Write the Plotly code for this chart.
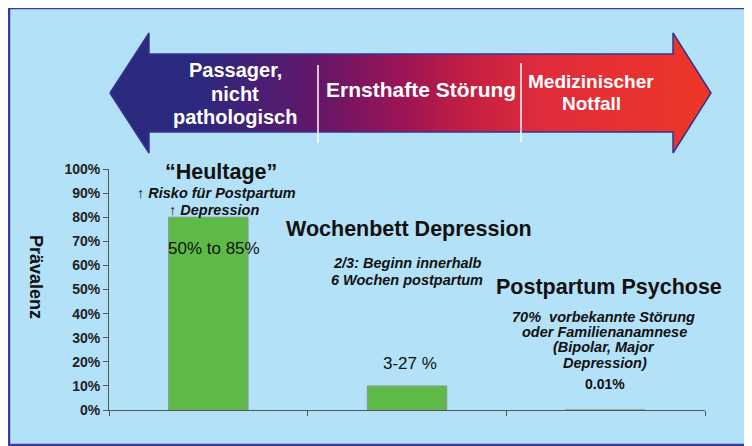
import plotly.graph_objects as go

# ---------------- data ----------------
categories = ["Heultage", "Wochenbett Depression", "Postpartum Psychose"]
prevalence = [0.80, 0.10, 0.0001]
y_ticks = [0, 0.1, 0.2, 0.3, 0.4, 0.5, 0.6, 0.7, 0.8, 0.9, 1.0]
y_title = "Prävalenz"
arrow_left_lines = ["Passager,", "nicht", "pathologisch"]
arrow_mid_label = "Ernsthafte Störung"
arrow_right_lines = ["Medizinischer", "Notfall"]

# page is 752x446 with an 8px body margin -> figure 744x438
OFF = 8
W, H = 744, 438
FONT = "Arial, Liberation Sans, sans-serif"


def fx(px):  # page pixel -> paper fraction
    return (px - OFF) / W


def fy(py):
    return 1 - (py - OFF) / H


fig = go.Figure()

# bars
fig.add_trace(go.Bar(
    x=categories, y=prevalence, width=0.4,
    marker=dict(color="#5dba47", line=dict(color="#8c9a8c", width=1)),
    xaxis="x", yaxis="y", hoverinfo="skip", showlegend=False,
))

# gradient arrow (decoration) on a full-figure pixel overlay axis
ax = [110, 149, 149, 673, 673, 711, 673, 673, 149, 149, 110]
ay = [93, 33, 54, 54, 33, 93, 153, 132, 132, 153, 93]
fig.add_trace(go.Scatter(
    x=ax, y=ay, mode="lines", fill="toself",
    line=dict(color="#34348e", width=1.5),
    fillgradient=dict(type="horizontal", colorscale=[
        [0.0, "#2a2a7e"], [0.15, "#2c2880"], [0.35, "#661668"],
        [0.48, "#9a1456"], [0.6, "#c41f42"], [0.72, "#e02c3c"], [1.0, "#ee3626"]]),
    xaxis="x2", yaxis="y2", hoverinfo="skip", showlegend=False,
))

fig.update_layout(
    width=W, height=H, autosize=False,
    margin=dict(l=0, r=0, t=0, b=0, pad=0),
    paper_bgcolor="white", plot_bgcolor="rgba(0,0,0,0)",
    font=dict(family=FONT, color="#111"),
    xaxis=dict(domain=[fx(109), fx(705)], type="category", range=[-0.5, 2.5],
               showline=True, linecolor="#555", linewidth=1,
               ticks="outside", tickson="boundaries", ticklen=5, tickcolor="#555",
               showticklabels=False, showgrid=False, zeroline=False, fixedrange=True,
               automargin=False),
    yaxis=dict(domain=[fy(410), fy(169)], range=[0, 1],
               tickvals=y_ticks, tickformat=".0%",
               showline=True, linecolor="#555", linewidth=1,
               ticks="outside", ticklen=5, tickcolor="#555",
               tickfont=dict(family=FONT, size=14, color="#222", weight="bold"),
               showgrid=False, zeroline=False, fixedrange=True, automargin=False),
    xaxis2=dict(domain=[0, 1], range=[OFF, OFF + W], visible=False, fixedrange=True,
                anchor="y2", automargin=False),
    yaxis2=dict(domain=[0, 1], range=[OFF + H, OFF], visible=False, fixedrange=True,
                anchor="x2", automargin=False),
)

# background panel
fig.add_shape(type="rect", xref="paper", yref="paper",
              x0=fx(9), x1=fx(749), y0=fy(445), y1=fy(8),
              fillcolor="#b3e1f7", line=dict(color="#3a3a9c", width=2.5), layer="below")

# white separators in the arrow
for sx, sy0, sy1 in [(318, 65, 143), (521, 63, 142)]:
    fig.add_shape(type="line", xref="x2", yref="y2", x0=sx, x1=sx, y0=sy0, y1=sy1,
                  line=dict(color="white", width=1.5))


def txt(x, y, text, size, bold=False, italic=False, color="#111", angle=0):
    fig.add_annotation(x=x, y=y, xref="x2", yref="y2", text=text, showarrow=False,
                       xanchor="center", yanchor="middle", textangle=angle,
                       font=dict(family=FONT, size=size, color=color,
                                 weight="bold" if bold else "normal",
                                 style="italic" if italic else "normal"))


# arrow labels
for line, ly in zip(arrow_left_lines, [70, 94, 117]):
    txt(235, ly, line, 20, bold=True, color="white")
txt(421, 89, arrow_mid_label, 21, bold=True, color="white")
for line, ly in zip(arrow_right_lines, [81, 103]):
    txt(591, ly, line, 19, bold=True, color="white")

# y-axis title
txt(36, 277, y_title, 18, bold=True, angle=90)

# Heultage
txt(221, 172, "“Heultage”", 21.5, bold=True)
txt(216, 193, "↑ Risko für Postpartum", 14.5, bold=True, italic=True)
txt(214, 210, "↑ Depression", 14.5, bold=True, italic=True)
txt(214, 248, "50% to 85%", 17)

# Wochenbett
txt(409, 229, "Wochenbett Depression", 21.5, bold=True)
txt(407, 263, "2/3: Beginn innerhalb", 14.5, bold=True, italic=True)
txt(407, 280, "6 Wochen postpartum", 14.5, bold=True, italic=True)
txt(410, 363, "3-27 %", 17)

# Psychose
txt(609, 287, "Postpartum Psychose", 21.5, bold=True)
txt(603, 317, "70%  vorbekannte Störung", 14.5, bold=True, italic=True)
txt(604, 332, "oder Familienanamnese", 14.5, bold=True, italic=True)
txt(604, 347, "(Bipolar, Major", 14.5, bold=True, italic=True)
txt(605, 363, "Depression)", 14.5, bold=True, italic=True)
txt(605, 384, "0.01%", 14, bold=True)

fig.write_html("out.html")
